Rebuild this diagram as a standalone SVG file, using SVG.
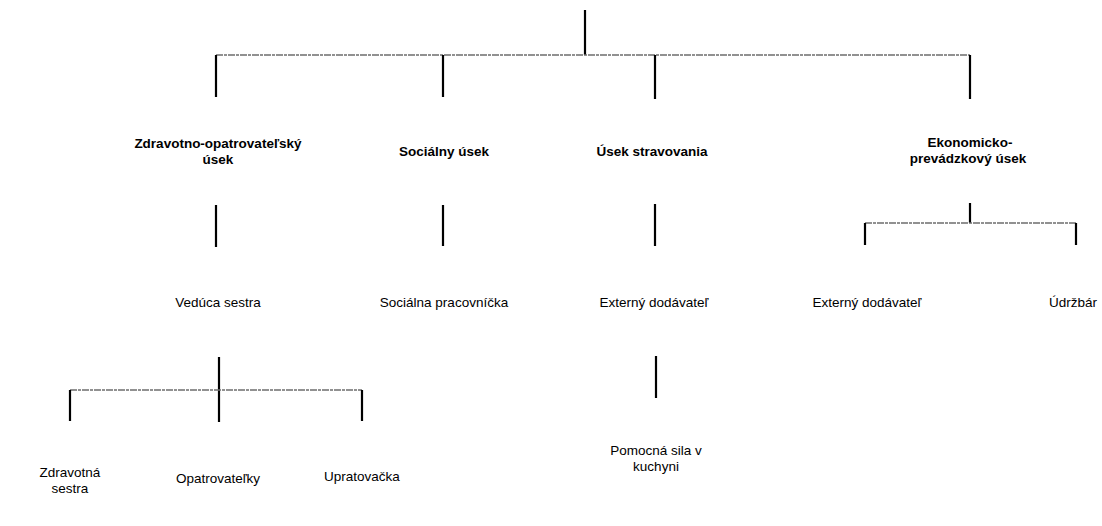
<svg xmlns="http://www.w3.org/2000/svg" width="1102" height="526" viewBox="0 0 1102 526">
<style>
.bg{fill:#ffffff}
.v{stroke:#000;stroke-width:2.2;fill:none}
.h{stroke:#6e6e6e;stroke-width:1.5;fill:none;stroke-dasharray:7 1 3 1}
text{font-family:"Liberation Sans",Arial,sans-serif;font-size:13.5px;fill:#000;text-anchor:middle}
.b{font-weight:bold}
</style>
<rect class="bg" x="0" y="0" width="1102" height="526"/>
<g id="connectors">
<path class="v" d="M585 10V55"/>
<path class="h" d="M216 55H970"/>
<path class="v" d="M216 55V97M443 55V97M655 55V99M970 55V99"/>
<path class="v" d="M216 205V247M443 205V246M655 204V246"/>
<path class="v" d="M970 203V223"/>
<path class="h" d="M865 223H1076"/>
<path class="v" d="M865 223V245M1076 223V245"/>
<path class="v" d="M219 357V422"/>
<path class="h" d="M70 390H362"/>
<path class="v" d="M70 390V421M362 390V421"/>
<path class="v" d="M656 356V398"/>
</g>
<g id="n_zdravotno"><text class="b" x="218" y="148">Zdravotno-opatrovateľský</text><text class="b" x="218" y="164">úsek</text></g>
<g id="n_socialny"><text class="b" x="444" y="156">Sociálny úsek</text></g>
<g id="n_stravovania"><text class="b" x="652" y="156">Úsek stravovania</text></g>
<g id="n_ekonomicko"><text class="b" x="970" y="147">Ekonomicko-</text><text class="b" x="968" y="163">prevádzkový úsek</text></g>
<g id="n_veduca"><text x="218" y="307">Vedúca sestra</text></g>
<g id="n_socpracovnicka"><text x="444" y="307">Sociálna pracovníčka</text></g>
<g id="n_externy1"><text x="654" y="307">Externý dodávateľ</text></g>
<g id="n_externy2"><text x="867" y="307">Externý dodávateľ</text></g>
<g id="n_udrzbar"><text x="1073" y="307">Údržbár</text></g>
<g id="n_pomocna"><text x="656" y="455">Pomocná sila v</text><text x="656" y="471">kuchyni</text></g>
<g id="n_zdravotna"><text x="70" y="477">Zdravotná</text><text x="70" y="493">sestra</text></g>
<g id="n_opatrovatelky"><text x="218" y="483">Opatrovateľky</text></g>
<g id="n_upratovacka"><text x="362" y="481">Upratovačka</text></g>
</svg>
